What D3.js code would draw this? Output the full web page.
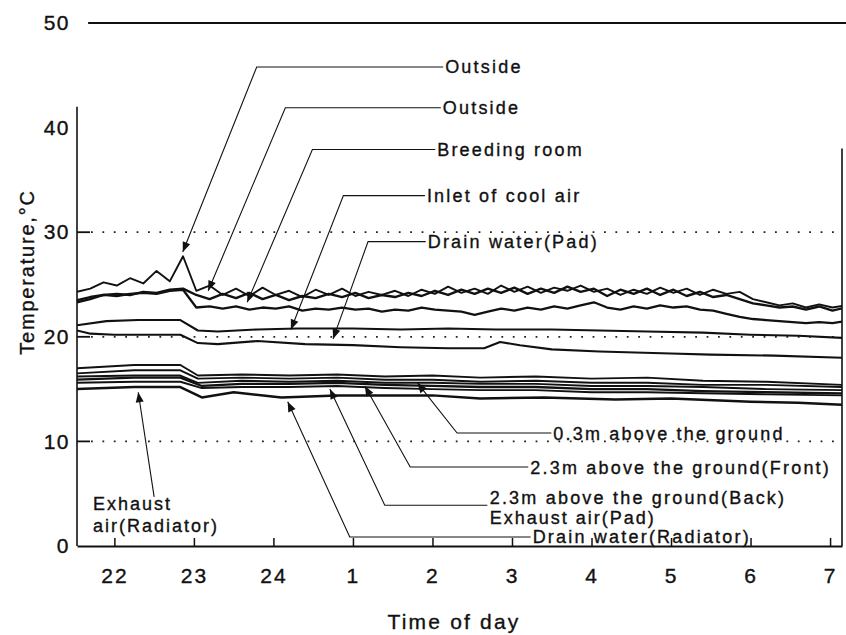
<!DOCTYPE html>
<html>
<head>
<meta charset="utf-8">
<script src="https://cdn.jsdelivr.net/npm/d3@7"></script>
<style>
body { margin: 0; background: #fff; }
text { font-family: "Liberation Sans", Arial, sans-serif; fill: #111; stroke: #111; stroke-width: 0.35px; }
</style>
</head>
<body>
<svg id="chart" width="846" height="635"></svg>
<script>
// hour positions: 22h = 0, 23h = 1, 24h = 2, 1h = 3 ... 7h = 9
var hourTicks = [0, 1, 2, 3, 4, 5, 6, 7, 8, 9];
var hourLabels = ['22', '23', '24', '1', '2', '3', '4', '5', '6', '7'];
var tempTicks = [0, 10, 20, 30, 40, 50];
var gridTemps = [10, 20, 30];

// noisy records, one reading every 10 minutes from 21:32
var noisyStart = -0.47;
var noisyStep = 1 / 6;
var outsideA = [24.3, 24.6, 25.2, 24.9, 25.6, 25.1, 26.3, 25.3, 27.7, 24.4,
  24.9, 24.0, 24.6, 23.9, 24.7, 24.0, 24.4, 23.8, 24.5, 24.0,
  24.6, 23.9, 24.3, 24.0, 24.4, 23.9, 24.5, 24.1, 24.8, 24.2,
  24.6, 24.1, 24.9, 24.3, 24.8, 24.2, 24.7, 24.4, 24.9, 24.3,
  24.6, 24.0, 24.5, 24.1, 24.7, 24.2, 24.6, 24.0, 24.5, 24.1,
  24.3, 23.6, 23.3, 23.0, 23.2, 22.8, 23.1, 22.8, 23.0];
var outsideB = [23.5, 23.8, 24.0, 24.1, 24.0, 24.3, 24.2, 24.5, 24.6, 24.0,
  23.6, 24.1, 23.7, 24.2, 23.6, 24.0, 23.5, 23.9, 23.7, 24.1,
  23.8, 24.2, 23.7, 24.0, 23.8, 24.2, 23.9, 24.4, 24.0, 24.5,
  24.1, 24.6, 24.2, 24.7, 24.1, 24.6, 24.2, 24.8, 24.3, 24.6,
  23.9, 24.5, 24.1, 24.6, 24.0, 24.5, 23.9, 24.3, 23.8, 24.0,
  23.6, 23.2, 23.0, 22.8, 22.9, 22.6, 22.9, 22.5, 22.8];
var breedingRoom = [23.3, 23.6, 24.0, 23.9, 24.1, 24.2, 24.1, 24.4, 24.5, 22.8,
  22.9, 22.7, 22.9, 22.6, 22.8, 22.7, 22.9, 22.5, 22.7, 22.6,
  22.8, 22.6, 22.7, 22.4, 22.6, 22.5, 22.8, 22.6, 22.5, 22.4,
  22.1, 22.4, 22.7, 22.5, 22.8, 22.6, 22.9, 22.7, 23.0, 23.3,
  22.8, 22.6, 22.9, 22.7, 23.0, 22.8, 22.9, 22.6, 22.5, 22.2,
  21.9, 21.7, 21.6, 21.5, 21.4, 21.3, 21.4, 21.3, 21.5];

// smoother records as [hour, temperature]
var inletCoolAir = [[-0.47, 21.1], [-0.1, 21.5], [0.3, 21.6], [0.83, 21.6], [1.05, 20.6], [1.3, 20.5],
  [1.8, 20.7], [2.3, 20.8], [3.0, 20.8], [3.6, 20.7], [4.2, 20.8], [4.8, 20.7], [5.5, 20.7],
  [6.1, 20.6], [6.7, 20.5], [7.4, 20.4], [8.0, 20.2], [8.6, 20.1], [9.15, 19.9]];
var drainWaterPad = [[-0.47, 20.6], [-0.3, 20.3], [0.0, 20.2], [0.83, 20.2], [1.05, 19.4], [1.3, 19.3],
  [1.8, 19.6], [2.4, 19.3], [3.0, 19.2], [3.6, 19.0], [4.2, 18.9], [4.65, 18.9], [4.85, 19.5],
  [5.1, 19.2], [5.5, 18.8], [6.1, 18.6], [7.0, 18.4], [7.5, 18.3], [8.3, 18.2], [9.15, 18.0]];
var exhaustAirPad = [[-0.47, 17.0], [0.25, 17.3], [0.83, 17.3], [1.05, 16.3], [1.6, 16.4], [2.2, 16.3],
  [2.8, 16.4], [3.4, 16.2], [4.0, 16.3], [4.6, 16.1], [5.3, 16.2], [6.0, 16.0], [6.7, 16.1],
  [7.4, 15.8], [8.2, 15.7], [9.15, 15.4]];
var above03m = [[-0.47, 16.5], [0.25, 16.8], [0.83, 16.8], [1.05, 16.0], [1.6, 16.1], [2.2, 16.0],
  [2.8, 16.1], [3.4, 15.9], [4.0, 15.9], [4.6, 15.7], [5.3, 15.8], [6.0, 15.6], [6.7, 15.6],
  [7.4, 15.4], [8.2, 15.4], [9.15, 15.2]];
var above23Front = [[-0.47, 16.2], [0.25, 16.3], [0.83, 16.3], [1.05, 15.6], [1.6, 15.8], [2.2, 15.7],
  [2.8, 15.8], [3.4, 15.6], [4.0, 15.6], [4.6, 15.5], [5.3, 15.5], [6.0, 15.3], [6.7, 15.3],
  [7.4, 15.2], [8.2, 15.0], [9.15, 14.9]];
var above23Back = [[-0.47, 15.9], [0.25, 16.1], [0.83, 16.1], [1.1, 15.3], [1.6, 15.5], [2.2, 15.5],
  [2.8, 15.6], [3.4, 15.4], [4.0, 15.3], [4.6, 15.2], [5.3, 15.2], [6.0, 15.0], [6.7, 15.0],
  [7.4, 14.8], [8.2, 14.7], [9.15, 14.6]];
var exhaustAirRadiator = [[-0.47, 15.6], [0.25, 15.7], [0.83, 15.7], [1.1, 15.1], [1.6, 15.2], [2.2, 15.2],
  [2.8, 15.3], [3.4, 15.1], [4.0, 15.0], [4.6, 14.9], [5.3, 14.9], [6.0, 14.7], [6.7, 14.7],
  [7.4, 14.6], [8.2, 14.5], [9.15, 14.4]];
var drainWaterRadiator = [[-0.47, 15.0], [0.25, 15.2], [0.83, 15.2], [1.1, 14.2], [1.5, 14.7], [2.1, 14.2],
  [2.8, 14.4], [3.5, 14.4], [4.0, 14.4], [4.6, 14.1], [5.4, 14.2], [6.3, 14.0], [7.0, 14.1],
  [8.0, 13.8], [8.6, 13.7], [9.15, 13.5]];

// leaders: arrow tip, elbow and label start, in [hour, temperature]
var leaders = [
  {text: 'Outside', tip: [0.86, 28.1], elbow: [1.79, 45.8], label: [4.16, 45.8]},
  {text: 'Outside', tip: [1.18, 24.4], elbow: [2.15, 41.9], label: [4.13, 41.9]},
  {text: 'Breeding room', tip: [1.67, 23.3], elbow: [2.49, 37.9], label: [4.06, 37.9]},
  {text: 'Inlet of cool air', tip: [2.22, 20.7], elbow: [2.88, 33.5], label: [3.93, 33.5]},
  {text: 'Drain water(Pad)', tip: [2.75, 19.8], elbow: [3.19, 29.1], label: [3.94, 29.1]},
  {text: '0.3m above the ground', tip: [3.81, 15.6], elbow: [4.31, 10.8], label: [5.52, 10.8]},
  {text: '2.3m above the ground(Front)', tip: [3.15, 15.3], elbow: [3.72, 7.55], label: [5.23, 7.55]},
  {text: '2.3m above the ground(Back)', tip: [2.71, 15.0], elbow: [3.40, 3.9], label: [4.72, 4.68], end: [4.69, 3.9]},
  {text: 'Drain water(Radiator)', tip: [2.18, 13.8], elbow: [2.96, 0.86], label: [5.26, 0.86]},
  {text: null, tip: [0.30, 14.7], elbow: [0.50, 4.7], label: null}
];
var looseLabels = [
  {text: 'Exhaust air(Pad)', at: [4.72, 2.68]},
  {text: 'Exhaust', at: [-0.27, 4.1]},
  {text: 'air(Radiator)', at: [-0.27, 2.0]}
];

var svg = d3.select('#chart');

var x = d3.scaleLinear().domain([-0.47, 9.15]).range([77, 842]);
var y = d3.scaleLinear().domain([0, 50]).range([546, 23]);

svg.append('defs').append('clipPath')
  .attr('id', 'plot-clip')
  .append('rect')
  .attr('x', x(-0.47)).attr('y', y(50))
  .attr('width', x(9.15) - x(-0.47)).attr('height', y(0) - y(50));

// dotted grid
svg.append('g').selectAll('line')
  .data(gridTemps)
  .enter().append('line')
  .attr('x1', x(-0.47) + 14).attr('x2', x(9.15))
  .attr('y1', d => y(d)).attr('y2', d => y(d))
  .attr('stroke', '#222')
  .attr('stroke-width', 1.8)
  .attr('stroke-dasharray', '1.8,9.6');

// short inner ticks on the temperature axis
svg.append('g').selectAll('line')
  .data(gridTemps)
  .enter().append('line')
  .attr('x1', x(-0.47)).attr('x2', x(-0.47) + 13)
  .attr('y1', d => y(d)).attr('y2', d => y(d))
  .attr('stroke', '#111')
  .attr('stroke-width', 1.8);

// frame: left axis, top line, right edge
svg.append('line')
  .attr('x1', x(-0.47)).attr('x2', x(-0.47))
  .attr('y1', y(42)).attr('y2', y(0))
  .attr('stroke', '#111').attr('stroke-width', 1.6);
svg.append('line')
  .attr('x1', x(-0.33)).attr('x2', 846)
  .attr('y1', y(50)).attr('y2', y(50))
  .attr('stroke', '#111').attr('stroke-width', 1.8);
svg.append('line')
  .attr('x1', x(9.15)).attr('x2', x(9.15))
  .attr('y1', y(38)).attr('y2', y(0))
  .attr('stroke', '#111').attr('stroke-width', 1.6);

// x axis
var xAxis = d3.axisBottom(x)
  .tickValues(hourTicks)
  .tickFormat((d, i) => hourLabels[i])
  .tickSizeInner(-8)
  .tickSizeOuter(0)
  .tickPadding(22);

var gx = svg.append('g')
  .attr('transform', 'translate(0,' + y(0) + ')')
  .call(xAxis);
gx.select('.domain').attr('stroke', '#111').attr('stroke-width', 2);
gx.selectAll('.tick line').attr('stroke', '#111').attr('stroke-width', 1.5);
gx.selectAll('.tick text')
  .style('font-family', '"Liberation Sans", Arial, sans-serif')
  .style('font-size', '21px')
  .style('letter-spacing', '2px')
  .attr('fill', '#111');

// y axis labels
var yAxis = d3.axisLeft(y)
  .tickValues(tempTicks)
  .tickSize(0)
  .tickPadding(7);

var gy = svg.append('g')
  .attr('transform', 'translate(' + x(-0.47) + ',0)')
  .call(yAxis);
gy.select('.domain').remove();
gy.selectAll('.tick text')
  .style('font-family', '"Liberation Sans", Arial, sans-serif')
  .style('font-size', '21px')
  .style('letter-spacing', '1.5px')
  .attr('fill', '#111');

// axis titles
svg.append('text')
  .attr('x', 454).attr('y', 629)
  .attr('text-anchor', 'middle')
  .style('font-size', '21px')
  .style('letter-spacing', '2.2px')
  .text('Time of day');

svg.append('text')
  .attr('transform', 'translate(34,272) rotate(-90)')
  .attr('text-anchor', 'middle')
  .style('font-size', '20px')
  .style('letter-spacing', '1.8px')
  .text('Temperature,°C');

// series
var line = d3.line()
  .x(d => x(d[0]))
  .y(d => y(d[1]));

var toPoints = function(values) {
  return values.map((v, i) => [noisyStart + i * noisyStep, v]);
};

var series = [
  {data: toPoints(outsideA), w: 1.9},
  {data: toPoints(outsideB), w: 2.4},
  {data: toPoints(breedingRoom), w: 2.3},
  {data: inletCoolAir, w: 2.1},
  {data: drainWaterPad, w: 2.1},
  {data: exhaustAirPad, w: 1.9},
  {data: above03m, w: 1.9},
  {data: above23Front, w: 1.9},
  {data: above23Back, w: 2.3},
  {data: exhaustAirRadiator, w: 1.9},
  {data: drainWaterRadiator, w: 2.5}
];

svg.append('g')
  .attr('clip-path', 'url(#plot-clip)')
  .selectAll('path')
  .data(series)
  .enter().append('path')
  .attr('d', d => line(d.data))
  .attr('fill', 'none')
  .attr('stroke', '#111')
  .attr('stroke-width', d => d.w)
  .attr('stroke-linejoin', 'round');

// leaders with arrowheads
var lg = svg.append('g');
leaders.forEach(function(a) {
  var pts = [[x(a.tip[0]), y(a.tip[1])], [x(a.elbow[0]), y(a.elbow[1])]];
  if (a.end) {
    pts.push([x(a.end[0]), y(a.end[1])]);
  } else if (a.label) {
    pts.push([x(a.label[0]) - 2, y(a.elbow[1])]);
  }
  lg.append('path')
    .attr('d', d3.line()(pts))
    .attr('fill', 'none')
    .attr('stroke', '#111')
    .attr('stroke-width', 1.1);

  var dx = pts[0][0] - pts[1][0];
  var dy = pts[0][1] - pts[1][1];
  var len = Math.sqrt(dx * dx + dy * dy);
  var ux = dx / len, uy = dy / len;
  var bx = pts[0][0] - ux * 10, by = pts[0][1] - uy * 10;
  lg.append('path')
    .attr('d', 'M' + pts[0][0] + ',' + pts[0][1] +
      'L' + (bx - uy * 4) + ',' + (by + ux * 4) +
      'L' + (bx + uy * 4) + ',' + (by - ux * 4) + 'Z')
    .attr('fill', '#111');

  if (a.text) {
    lg.append('text')
      .attr('x', x(a.label[0]))
      .attr('y', y(a.label[1]))
      .attr('dy', '0.36em')
      .style('font-size', '18px')
      .style('letter-spacing', '2.2px')
      .text(a.text);
  }
});

lg.selectAll('.loose')
  .data(looseLabels)
  .enter().append('text')
  .attr('class', 'loose')
  .attr('x', d => x(d.at[0]))
  .attr('y', d => y(d.at[1]))
  .attr('dy', '0.36em')
  .style('font-size', '18px')
  .style('letter-spacing', '2px')
  .text(d => d.text);
</script>
</body>
</html>
